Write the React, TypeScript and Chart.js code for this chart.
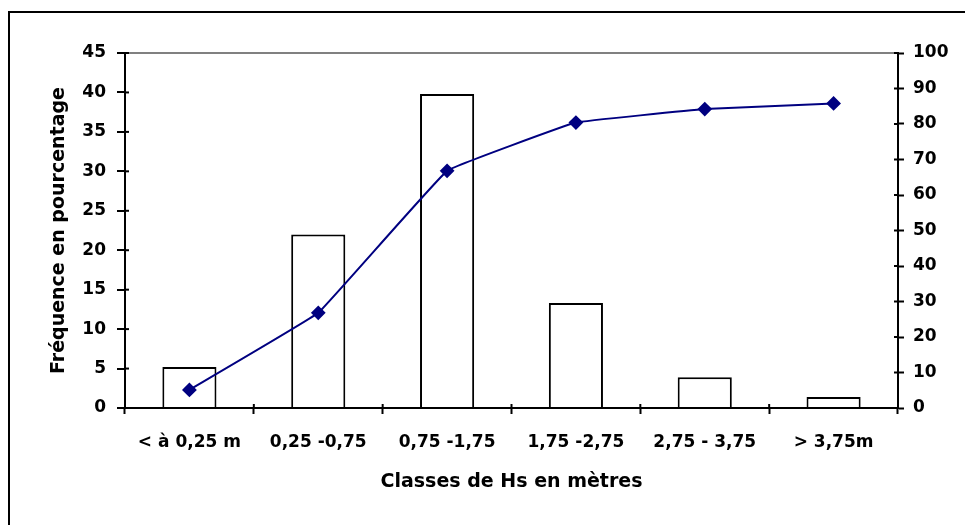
import React, { useEffect, useRef } from "react";
import { Chart, registerables } from "chart.js";

Chart.register(...registerables);

const categories = ["< à 0,25 m", "0,25 -0,75", "0,75 -1,75", "1,75 -2,75", "2,75 - 3,75", "> 3,75m"];
const frequencies = [5.2, 22, 39.8, 13.3, 3.9, 1.4];
const cumulative = [5.1, 26.8, 66.8, 80.4, 84.2, 85.8];
const leftTicks = { min: 0, max: 45, step: 5 };
const rightTicks = { min: 0, max: 100, step: 10 };
const xTitle = "Classes de Hs en mètres";
const yTitle = "Fréquence en pourcentage";

const FONT = "'DejaVu Sans', 'Liberation Sans', Arial, sans-serif";

const innerTicks = {
  id: "innerTicks",
  afterDatasetsDraw(chart: any) {
    const { ctx, chartArea, scales } = chart;
    ctx.save();
    ctx.strokeStyle = "#000";
    ctx.lineWidth = 2;
    const len = 4;
    scales.y.ticks.forEach((_t: any, i: number) => {
      const py = scales.y.getPixelForTick(i);
      ctx.beginPath();
      ctx.moveTo(chartArea.left, py);
      ctx.lineTo(chartArea.left + len, py);
      ctx.stroke();
    });
    scales.y1.ticks.forEach((_t: any, i: number) => {
      const py = scales.y1.getPixelForTick(i);
      ctx.beginPath();
      ctx.moveTo(chartArea.right, py);
      ctx.lineTo(chartArea.right - len, py);
      ctx.stroke();
    });
    for (let i = 0; i <= categories.length; i++) {
      const px = scales.x.getPixelForValue(i - 0.5);
      ctx.beginPath();
      ctx.moveTo(px, chartArea.bottom);
      ctx.lineTo(px, chartArea.bottom - len);
      ctx.stroke();
    }
    ctx.restore();
  },
};

export default function App() {
  const ref = useRef<HTMLCanvasElement | null>(null);

  useEffect(() => {
    if (!ref.current) return;
    const tickFont = { family: FONT, size: 17, weight: "bold" as const };
    const titleFont = { family: FONT, size: 19, weight: "bold" as const };
    const chart = new Chart(ref.current, {
      type: "bar",
      data: {
        labels: categories,
        datasets: [
          {
            type: "line",
            label: "Cumul",
            data: cumulative,
            yAxisID: "y1",
            borderColor: "#000080",
            backgroundColor: "#000080",
            borderWidth: 2,
            tension: 0.06,
            pointStyle: "rectRot",
            pointRadius: 6,
            pointBackgroundColor: "#000080",
            pointBorderColor: "#000080",
            order: 0,
          } as any,
          {
            type: "bar",
            label: "Fréquence",
            data: frequencies,
            yAxisID: "y",
            backgroundColor: "#ffffff",
            borderColor: "#000000",
            borderWidth: 2,
            categoryPercentage: 1,
            barPercentage: 0.42,
            order: 1,
          },
        ],
      },
      options: {
        responsive: false,
        maintainAspectRatio: false,
        animation: false,
        layout: { padding: { top: 53, left: 0, right: 0, bottom: 0 } },
        plugins: {
          legend: { display: false },
          tooltip: { enabled: false },
        },
        scales: {
          x: {
            type: "category",
            offset: true,
            grid: {
              offset: true,
              drawOnChartArea: false,
              color: "#000",
              tickLength: 6,
              tickWidth: 2,
            },
            border: { display: true, color: "#000", width: 2 },
            ticks: { color: "#000", font: tickFont, padding: 18, maxRotation: 0, autoSkip: false },
            title: {
              display: true,
              text: xTitle,
              color: "#000",
              font: titleFont,
              padding: { top: 0, bottom: 32 },
            },
            afterFit: (s: any) => {
              s.height = 117;
            },
          },
          y: {
            type: "linear",
            position: "left",
            min: leftTicks.min,
            max: leftTicks.max,
            ticks: { stepSize: leftTicks.step, color: "#000", font: tickFont, padding: 11 },
            grid: {
              color: (c: any) => (c.tick && c.tick.value === leftTicks.max ? "#808080" : "rgba(0,0,0,0)"),
              lineWidth: 2,
              tickColor: "#000",
              tickLength: 8,
              tickWidth: 2,
            },
            border: { display: true, color: "#000", width: 2 },
            title: {
              display: true,
              text: yTitle,
              color: "#000",
              font: titleFont,
              padding: { top: 48, bottom: 0 },
            },
            afterFit: (s: any) => {
              s.width = 125;
            },
          },
          y1: {
            type: "linear",
            position: "right",
            min: rightTicks.min,
            max: rightTicks.max,
            ticks: { stepSize: rightTicks.step, color: "#000", font: tickFont, padding: 9 },
            grid: {
              drawOnChartArea: false,
              color: "#000",
              tickLength: 6,
              tickWidth: 2,
            },
            border: { display: true, color: "#000", width: 2 },
            afterFit: (s: any) => {
              s.width = 67;
            },
          },
        },
      },
      plugins: [innerTicks],
    });
    return () => chart.destroy();
  }, []);

  return (
    <div style={{ position: "fixed", left: 0, top: 0, width: 965, height: 525, overflow: "hidden", background: "#fff" }}>
      <canvas ref={ref} width={965} height={525} style={{ display: "block", position: "absolute", left: 0, top: 0 }} />
      <div
        style={{
          position: "absolute",
          left: 8,
          top: 11,
          width: 1200,
          height: 800,
          borderLeft: "2px solid #000",
          borderTop: "2px solid #000",
          pointerEvents: "none",
        }}
      />
    </div>
  );
}
